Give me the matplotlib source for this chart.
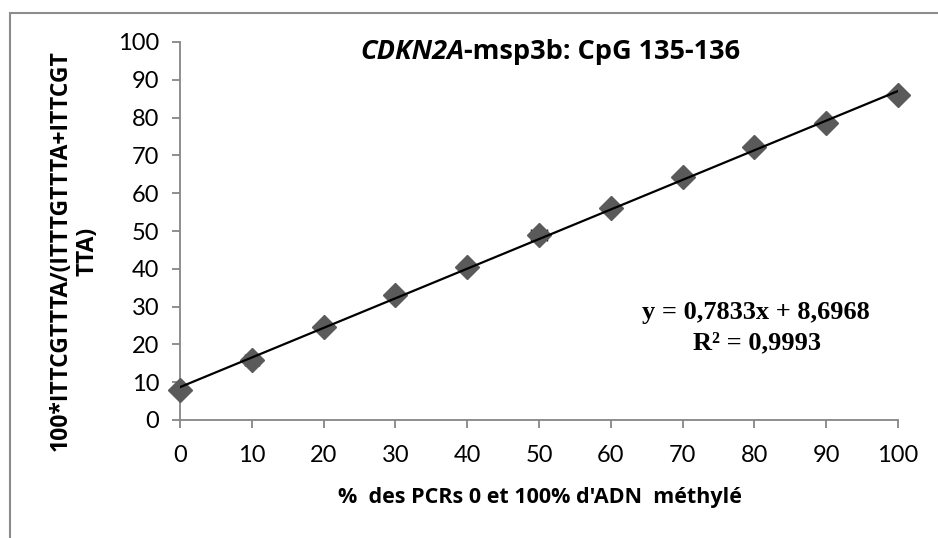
import matplotlib
matplotlib.use("Agg")
import matplotlib.pyplot as plt
from matplotlib.patches import Rectangle
import numpy as np

# data
pct_methylated = [0, 10, 20, 30, 40, 50, 60, 70, 80, 90, 100]
measured = [7.9, 16.0, 24.6, 33.0, 40.6, 49.0, 56.0, 64.4, 72.3, 78.6, 86.0]
x_err = [0, 1.0, 0, 0, 0, 1.1, 0, 0.8, 0, 0, 0]
slope, intercept, r2 = 0.7833, 8.6968, 0.9993

x_ticks = [0, 10, 20, 30, 40, 50, 60, 70, 80, 90, 100]
y_ticks = [0, 10, 20, 30, 40, 50, 60, 70, 80, 90, 100]

W, H = 938, 538
fig = plt.figure(figsize=(W / 100, H / 100), dpi=100)
fig.patch.set_facecolor("white")

# outer chart-area frame (cropped on the right and bottom)
fig.patches.append(Rectangle((10 / W, -0.1), 1.2, 1 - 13 / H + 0.1,
                             transform=fig.transFigure, fill=False,
                             edgecolor="#8c8c8c", linewidth=1.5))

ax = fig.add_axes([180 / W, 1 - 420 / H, (898 - 180) / W, (420 - 42) / H])
ax.set_xlim(0, 100)
ax.set_ylim(0, 100)
ax.set_xticks(x_ticks)
ax.set_yticks(y_ticks)

grey = "#868686"
for side in ("top", "right"):
    ax.spines[side].set_visible(False)
for side in ("left", "bottom"):
    ax.spines[side].set_color(grey)
    ax.spines[side].set_linewidth(1.3)
ax.spines["left"].set_zorder(0)
ax.tick_params(direction="out", length=6, width=1.3, color=grey,
               labelsize=17)
for lab in ax.get_xticklabels() + ax.get_yticklabels():
    lab.set_fontfamily("Lato")
ax.tick_params(axis="y", pad=9)
ax.tick_params(axis="x", pad=12)

# points with small horizontal error bars
ax.errorbar(pct_methylated, measured, xerr=x_err, fmt="none",
            ecolor="black", elinewidth=1, capsize=4, zorder=3)
ax.plot(pct_methylated, measured, linestyle="none", marker="D",
        markersize=12.5, color="#5a5a5a", zorder=3, clip_on=False)

# linear trendline
xs = np.array([pct_methylated[0], pct_methylated[-1]])
ax.plot(xs, slope * xs + intercept, color="black", linewidth=1.6, zorder=4)

# title with italic gene name
tx, ty = 464 / W, 1 - 52 / H
fig.text(tx, ty, "CDKN2A", ha="right", va="center", fontsize=19.5,
         fontweight="bold", style="italic", family="Open Sans")
fig.text(tx, ty, "-msp3b: CpG 135-136", ha="left", va="center",
         fontsize=19.5, fontweight="bold", family="Open Sans")

eq = f"y = {slope:.4f}x + {intercept:.4f}".replace(".", ",")
r2_txt = f"R² = {r2:.4f}".replace(".", ",")
fig.text(756 / W, 1 - 313 / H, eq, ha="center", va="center",
         fontsize=19, fontweight="bold", family="Liberation Serif")
fig.text(757 / W, 1 - 343 / H, r2_txt, ha="center", va="center",
         fontsize=19, fontweight="bold", family="Liberation Serif")

fig.text(540 / W, 1 - 498 / H, "%  des PCRs 0 et 100% d'ADN  méthylé",
         ha="center", va="center", fontsize=15.5, fontweight="bold",
         family="Open Sans")
fig.text(74 / W, 1 - 251 / H, "100*ITTCGTTTA/(ITTTGTTTA+ITTCGT\nTTA)",
         ha="center", va="center", rotation=90, fontsize=16.5,
         fontweight="bold", family="Open Sans", multialignment="center",
         linespacing=1.15)

fig.savefig("out.png", dpi=100)
